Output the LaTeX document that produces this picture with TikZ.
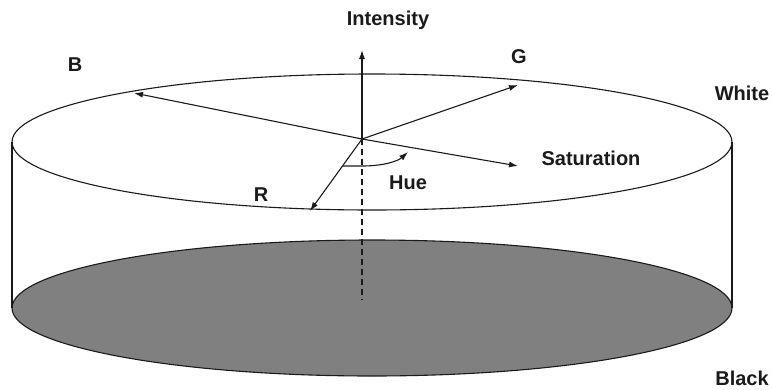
\documentclass[tikz,border=0pt]{standalone}
\usepackage{fontspec}
\setmainfont{Liberation Sans}
\usepackage{tikz}
\usetikzlibrary{arrows.meta,positioning}
\definecolor{hsiInk}{HTML}{1A1A1A}
\definecolor{hsiShade}{HTML}{808080}
\tikzset{
  axis/.style={-{Latex[length=9pt,width=6pt]},line width=1.1pt,draw=hsiInk},
  rim/.style={line width=1.1pt,draw=hsiInk},
  lbl/.style={font=\bfseries\fontsize{20}{24}\selectfont,text=hsiInk,inner sep=0pt}
}

\begin{document}
\begin{tikzpicture}[x=1pt,y=-1pt]
  \useasboundingbox (0,0) rectangle (772,389);
  % black disc and cylinder wall
  \draw[rim,fill=hsiShade] (372,308) ellipse [x radius=360,y radius=68];
  \draw[rim] (12,142) -- (12,308);
  \draw[rim] (732,142) -- (732,308);
  % white disc
  \draw[rim] (372,142) ellipse [x radius=360,y radius=68];

  \coordinate (o) at (362,139);
  \coordinate (top) at (362,50);
  \coordinate (base) at (362,300);
  \coordinate (tipB) at (134,93);
  \coordinate (tipG) at (518,85);
  \coordinate (tipS) at (518,166);
  \coordinate (tipR) at (310,211);
  \coordinate (hueA) at (343,166);
  \coordinate (hueB) at (408,152);

  \draw[rim,dash pattern=on 6pt off 4pt] (o) -- (base);
  \draw[axis] (o) -- (top);
  \draw[axis] (o) -- (tipB);
  \draw[axis] (o) -- (tipG);
  \draw[axis] (o) -- (tipS);
  \draw[axis] (o) -- (tipR);
  \draw[axis] (hueA) -- (362,166) .. controls (384,166) and (398,161) .. (hueB);

  \node[lbl] (intensity) at (388,20) {Intensity};
  \node[lbl] (blue) at (75,65) {B};
  \node[lbl] (green) at (519,57) {G};
  \node[lbl] (white) at (742,93) {White};
  \node[lbl] (sat) at (591,158) {Saturation};
  \node[lbl] (hue) at (408,183) {Hue};
  \node[lbl] (red) at (261,195) {R};
  \node[lbl] (black) at (742,378) {Black};
\end{tikzpicture}
\end{document}
